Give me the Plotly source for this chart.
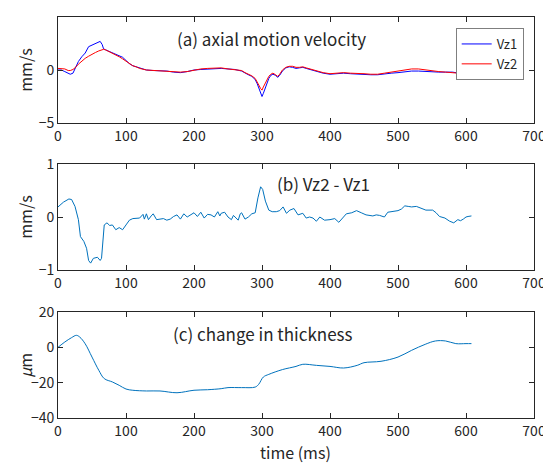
import plotly.graph_objects as go
from plotly.subplots import make_subplots

# ---- data ----
t_a = [0,5,10,15,18,22,25,30,35,40,45,50,55,60,62,65,67,70,75,80,85,90,95,100,105,110,115,120,130,140,
       150,160,170,180,190,200,210,220,230,240,250,260,270,275,280,285,290,293,296,298,300,302,305,308,310,313,316,320,323,326,
       330,335,340,345,350,355,360,365,370,375,380,390,400,410,420,430,440,450,460,470,480,490,500,510,520,530,540,550,560,570,
       580,590,600,608]
vz1 = [0,0,-0.15,-0.3,-0.4,-0.3,0.15,0.8,1.25,1.6,2.2,2.35,2.5,2.6,2.7,2.4,2.0,1.9,1.75,1.6,
       1.5,1.35,1.2,0.9,0.6,0.4,0.3,0.15,0,-0.05,-0.05,-0.1,-0.2,-0.25,-0.15,0,0.05,0.1,0.15,0.15,
       0.1,0.05,-0.1,-0.3,-0.45,-0.6,-0.9,-1.3,-1.9,-2.2,-2.5,-2.2,-1.7,-1.2,-0.8,-0.5,-0.4,-0.5,-0.7,-0.5,
       -0.1,0.2,0.3,0.25,0.15,0.2,0.25,0.15,0.05,0,-0.1,-0.3,-0.4,-0.35,-0.3,-0.35,-0.4,-0.4,-0.45,-0.45,
       -0.35,-0.3,-0.25,-0.15,-0.1,-0.1,-0.15,-0.2,-0.2,-0.2,-0.2,-0.3,-0.35,-0.4]
vz2 = [0.15,0.15,0.1,-0.05,-0.05,0.05,0.2,0.55,0.85,1.1,1.3,1.5,1.65,1.8,1.85,1.95,1.95,1.9,1.75,1.55,
       1.4,1.25,1.05,0.85,0.6,0.4,0.3,0.15,0,-0.05,-0.05,-0.1,-0.15,-0.2,-0.15,0,0.1,0.15,0.15,0.2,
       0.1,0.05,-0.05,-0.25,-0.4,-0.55,-0.8,-1.1,-1.5,-1.75,-1.9,-1.6,-1.2,-0.8,-0.6,-0.4,-0.3,-0.45,-0.6,-0.4,
       0,0.25,0.35,0.35,0.25,0.25,0.3,0.2,0.1,0.05,-0.05,-0.25,-0.35,-0.3,-0.25,-0.3,-0.3,-0.35,-0.4,-0.4,
       -0.3,-0.2,-0.1,0.05,0.1,0.1,0,-0.1,-0.15,-0.2,-0.25,-0.35,-0.4,-0.4]

t_b = [0,8,16,20,25,30,33,38,42,45,48,52,58,62,64,68,72,76,80,85,90,95,100,105,110,120,125,127,130,133,
       137,140,145,150,155,160,165,170,175,180,185,190,195,200,205,210,215,220,225,230,235,238,240,245,250,255,258,260,265,268,
       270,275,280,285,290,294,298,301,305,310,315,321,326,331,336,341,347,353,360,365,370,375,380,385,392,400,407,413,424,432,
       439,446,453,463,468,473,480,485,492,500,505,510,515,520,527,534,541,551,556,561,569,576,582,588,592,596,600,603,608]
diff = [0.19,0.28,0.34,0.33,0.2,-0.05,-0.37,-0.46,-0.59,-0.82,-0.87,-0.78,-0.76,-0.82,-0.78,-0.15,-0.11,-0.16,-0.15,-0.24,
        -0.2,-0.24,-0.15,-0.06,-0.03,-0.02,0.05,-0.04,0.06,-0.05,0.02,0.06,-0.05,-0.04,-0.03,-0.06,-0.04,0.01,0.04,-0.04,
        0.06,0,0.04,0.08,0.01,0.09,-0.02,0.05,0.04,0,0.1,0.02,0.07,0.09,0,-0.05,0.03,0,-0.06,0.06,
        0.08,-0.04,0,0.06,0.08,0.36,0.57,0.52,0.3,0.13,0.1,0.1,0.12,0.19,0.07,0.13,0.16,0.04,0.07,-0.02,
        0,-0.02,-0.08,0,-0.06,-0.05,-0.03,-0.1,0.06,0.08,0.12,0.08,0.04,0.02,0.04,0.03,0,0.09,0.1,0.12,
        0.15,0.21,0.2,0.19,0.2,0.16,0.13,0.13,0.08,0.01,-0.02,-0.08,-0.11,-0.05,-0.07,-0.04,0,0.01,0.02]

t_c = [0,10,20,27,32,40,50,60,68,80,90,100,110,130,150,175,200,220,240,250,270,290,295,302,310,330,350,360,380,400,
       420,440,450,475,500,520,540,555,570,585,600,608]
thick = [0,3,5.5,6.8,5.8,2,-5.5,-13,-17.7,-19.6,-21.5,-23.6,-24.3,-24.7,-24.7,-25.7,-24.3,-24,-23.4,-22.8,
         -22.8,-22.5,-21,-16.8,-15.3,-12.6,-10.8,-9.6,-10.2,-10.8,-11.7,-10.2,-8.7,-7.9,-5.5,-1.7,1.7,3.6,3.6,2.1,2.1,2.1]

assert len(t_a) == len(vz1) == len(vz2)
assert len(t_b) == len(diff)
assert len(t_c) == len(thick)

FONT = "Noto Sans CJK JP"
AX = "#262626"
MBLUE = "#0072BD"

fig = make_subplots(rows=3, cols=1)
fig.add_trace(go.Scatter(x=t_a, y=vz1, mode="lines", name="Vz1", line=dict(color="#0000FF", width=1)), 1, 1)
fig.add_trace(go.Scatter(x=t_a, y=vz2, mode="lines", name="Vz2", line=dict(color="#FF0000", width=1)), 1, 1)
fig.add_trace(go.Scatter(x=t_b, y=diff, mode="lines", showlegend=False, line=dict(color=MBLUE, width=1)), 2, 1)
fig.add_trace(go.Scatter(x=t_c, y=thick, mode="lines", showlegend=False, line=dict(color=MBLUE, width=1, shape="spline")), 3, 1)

# page body adds an 8px offset; work in screen pixels and convert
OFF = 8
W, H = 551, 464
sx0, sx1 = 58.3, 534.3   # plot area left/right on screen
sy0, sy1 = 17, 418       # plot area top/bottom on screen
left = sx0 - OFF
right = W - (sx1 - OFF)
top = sy0 - OFF
bot = H - (sy1 - OFF)
pw = sx1 - sx0
ph = sy1 - sy0

def dom(y0, y1):
    return [(sy1 - y1) / ph, (sy1 - y0) / ph]
def px(x):
    return (x - sx0) / pw
def py(y):
    return (sy1 - y) / ph

common = dict(showline=True, linecolor=AX, linewidth=1, mirror="ticks", ticks="inside", ticklen=5,
              tickcolor=AX, showgrid=False, zeroline=False, automargin=False,
              tickfont=dict(family=FONT, size=14, color=AX))
for i in (1, 2, 3):
    fig.update_xaxes(range=[0, 700], tickvals=[0,100,200,300,400,500,600,700], row=i, col=1, **common)
fig.update_yaxes(range=[-5, 5], tickvals=[-5, 0, 5], domain=dom(17, 123), row=1, col=1, **common)
fig.update_yaxes(range=[-1, 1], tickvals=[-1, 0, 1], domain=dom(164, 270), row=2, col=1, **common)
fig.update_yaxes(range=[-40, 20], tickvals=[-40, -20, 0, 20], domain=dom(312, 418), row=3, col=1, **common)

ann_font = dict(family=FONT, size=17, color=AX)
annotations = [
    dict(x=314, y=3.0, xref="x", yref="y", text="(a) axial motion velocity", showarrow=False, font=ann_font),
    dict(x=391, y=0.64, xref="x2", yref="y2", text="(b) Vz2 - Vz1", showarrow=False, font=ann_font),
    dict(x=302, y=7.8, xref="x3", yref="y3", text="(c) change in thickness", showarrow=False, font=ann_font),
]
lab_font = dict(family=FONT, size=16, color=AX)
for yc, txt in [(70, "mm/s"), (217, "mm/s"), (365, "<i>μ</i>m")]:
    annotations.append(dict(x=px(25), y=py(yc), xref="paper", yref="paper", text=txt, textangle=-90,
                            xanchor="center", yanchor="middle", showarrow=False, font=lab_font))
annotations.append(dict(x=px(296), y=py(452), xref="paper", yref="paper", text="time (ms)",
                        xanchor="center", yanchor="middle", showarrow=False, font=lab_font))

fig.update_layout(
    width=W, height=H, margin=dict(l=left, r=right, t=top, b=bot, autoexpand=False),
    paper_bgcolor="white", plot_bgcolor="white",
    annotations=annotations,
    legend=dict(x=px(524), y=py(28), xanchor="right", yanchor="top", bordercolor="#7f7f7f", borderwidth=1,
                bgcolor="white", font=dict(family=FONT, size=13, color=AX), tracegroupgap=0,
                itemwidth=30),
    showlegend=True,
)
fig.write_html("out.html")
